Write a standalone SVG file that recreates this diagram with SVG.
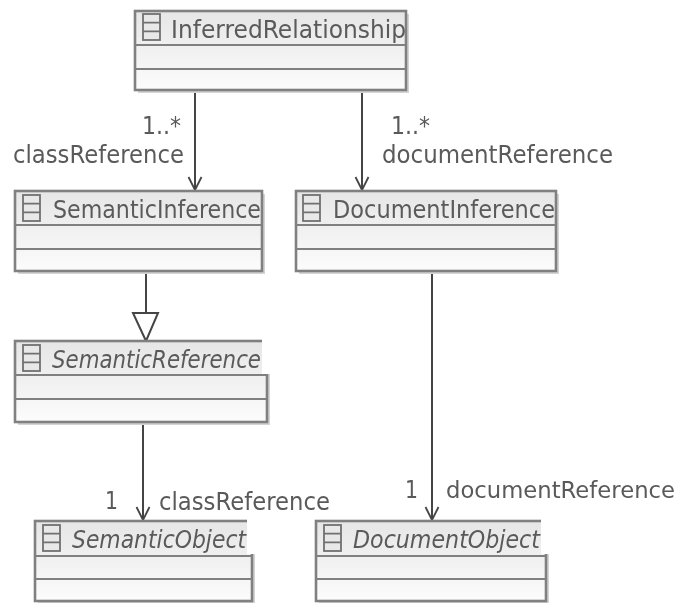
<svg xmlns="http://www.w3.org/2000/svg" width="679" height="603" viewBox="0 0 679 603">
<style>
text{font-family:"DejaVu Sans",sans-serif;font-size:24px;fill:#5a5a5a}
.it{font-style:italic}
.box{stroke:#808080;stroke-width:2.6;fill:url(#g)}
.sh{fill:#d4d4d4}
.ln{stroke:#808080;stroke-width:2.2;fill:none}
.ic{stroke:#707070;stroke-width:1.8;fill:#e8e8e8}
.c{stroke:#444;stroke-width:2;fill:none}
.tri{stroke:#444;stroke-width:2;fill:#fff}
</style>
<defs>
<filter id="soft" x="0" y="0" width="679" height="603" filterUnits="userSpaceOnUse"><feGaussianBlur stdDeviation="0.5"/></filter>
<linearGradient id="g" x1="0" y1="0" x2="0" y2="1"><stop offset="0" stop-color="#e6e6e6"/><stop offset="1" stop-color="#fcfcfc"/></linearGradient>
<marker id="a" markerUnits="userSpaceOnUse" markerWidth="18" markerHeight="18" refX="14" refY="8" orient="auto"><path d="M1 1.5L14 8L1 14.5" fill="none" stroke="#444" stroke-width="1.8"/></marker>
<g id="icon"><rect class="ic" width="17" height="26"/><path class="ic" d="M0 8.7H17M0 17.3H17"/></g>
</defs>
<g filter="url(#soft)">
<g id="connectors">
<path class="c" marker-end="url(#a)" d="M195 90V190"/>
<path class="c" marker-end="url(#a)" d="M362 90V190"/>
<path class="c" d="M146 271V313"/>
<path class="tri" d="M133 313H158L146 341Z"/>
<path class="c" marker-end="url(#a)" d="M143 422V520"/>
<path class="c" marker-end="url(#a)" d="M432 271V520"/>
</g>
<g id="InferredRelationship"><rect class="sh" x="138" y="14" width="271" height="79"/><rect class="box" x="135" y="11" width="271" height="79"/><path class="ln" d="M135 45H406M135 69H406"/><use href="#icon" x="143" y="14"/><text x="171" y="38" textLength="235" lengthAdjust="spacingAndGlyphs">InferredRelationship</text></g>
<g id="SemanticInference"><rect class="sh" x="18" y="194" width="247" height="80"/><rect class="box" x="15" y="191" width="247" height="80"/><path class="ln" d="M15 225H262M15 249H262"/><use href="#icon" x="23" y="195"/><text x="53" y="218" textLength="208" lengthAdjust="spacingAndGlyphs">SemanticInference</text></g>
<g id="DocumentInference"><rect class="sh" x="299" y="194" width="260" height="80"/><rect class="box" x="296" y="191" width="260" height="80"/><path class="ln" d="M296 225H556M296 249H556"/><use href="#icon" x="303" y="195"/><text x="333" y="218" textLength="222" lengthAdjust="spacingAndGlyphs">DocumentInference</text></g>
<g id="SemanticReference"><rect class="sh" x="18" y="344" width="252" height="81"/><rect class="box" x="15" y="341" width="252" height="81"/><rect x="262" y="336" width="8" height="38" fill="#fff"/><path class="ln" d="M15 375H267M15 399H267"/><use href="#icon" x="23" y="345"/><text class="it" x="52" y="368" textLength="209" lengthAdjust="spacingAndGlyphs">SemanticReference</text></g>
<g id="SemanticObject"><rect class="sh" x="38" y="524" width="217" height="79"/><rect class="box" x="35" y="521" width="217" height="80"/><rect x="247" y="516" width="9" height="38" fill="#fff"/><path class="ln" d="M35 556H252M35 579H252"/><use href="#icon" x="43" y="525"/><text class="it" x="72" y="548" textLength="174" lengthAdjust="spacingAndGlyphs">SemanticObject</text></g>
<g id="DocumentObject"><rect class="sh" x="319" y="524" width="230" height="79"/><rect class="box" x="316" y="521" width="230" height="80"/><rect x="541" y="516" width="9" height="38" fill="#fff"/><path class="ln" d="M316 556H546M316 579H546"/><use href="#icon" x="324" y="525"/><text class="it" x="353" y="548" textLength="187" lengthAdjust="spacingAndGlyphs">DocumentObject</text></g>
<g id="labels">
<text x="142" y="134" textLength="39" lengthAdjust="spacingAndGlyphs">1..*</text>
<text x="13" y="163" textLength="171" lengthAdjust="spacingAndGlyphs">classReference</text>
<text x="391" y="134" textLength="39" lengthAdjust="spacingAndGlyphs">1..*</text>
<text x="382" y="163" textLength="231" lengthAdjust="spacingAndGlyphs">documentReference</text>
<text x="105" y="509" textLength="13" lengthAdjust="spacingAndGlyphs">1</text>
<text x="159" y="510" textLength="171" lengthAdjust="spacingAndGlyphs">classReference</text>
<text x="405" y="498" textLength="13" lengthAdjust="spacingAndGlyphs">1</text>
<text x="446" y="498" style="font-size:22.5px" textLength="229" lengthAdjust="spacingAndGlyphs">documentReference</text>
</g>
</g>
</svg>
